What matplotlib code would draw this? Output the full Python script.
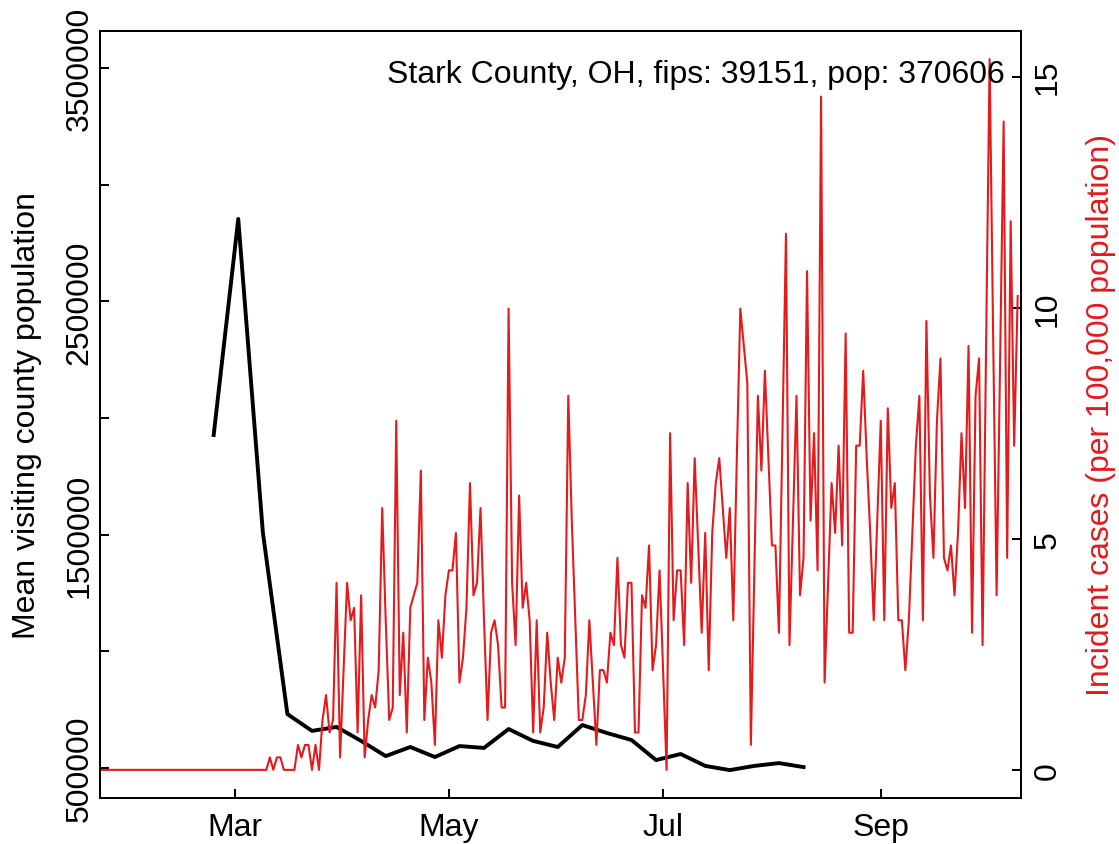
import matplotlib
matplotlib.use("Agg")
import matplotlib.pyplot as plt
import matplotlib.dates as mdates
import numpy as np
import pandas as pd

plt.rcParams['font.family'] = ['Liberation Sans', 'DejaVu Sans']

county_label = "Stark County, OH, fips: 39151, pop: 370606"
population = 370606

# weekly mean visiting county population (Mondays from 2020-02-24)
visit_start = "2020-02-24"
visit_pop = [1927000, 2853000, 1511000, 731000, 659000, 676000, 616000,
             551000, 590000, 547000, 594000, 586000, 667000, 616000,
             590000, 684000, 650000, 620000, 534000, 560000, 509000,
             491000, 509000, 521000, 504000]

# daily new cases from 2020-01-22
case_start = "2020-01-22"
new_cases = [0] * 49 + [
    1, 0, 1, 1, 0, 0, 0, 0, 2, 1,
    2, 2, 0, 2, 0, 4, 6, 3, 4, 15,
    1, 8, 15, 12, 13, 3, 14, 1, 4, 6,
    5, 8, 21, 12, 4, 5, 28, 6, 11, 3,
    13, 14, 15, 24, 4, 9, 7, 2, 12, 9,
    14, 16, 16, 19, 7, 9, 13, 23, 14, 15,
    21, 12, 4, 11, 12, 10, 5, 5, 37, 15,
    10, 22, 13, 15, 12, 3, 12, 3, 5, 11,
    7, 4, 9, 7, 9, 30, 20, 12, 4, 4,
    6, 12, 7, 2, 8, 8, 7, 11, 10, 17,
    10, 9, 15, 15, 3, 3, 14, 13, 18, 8,
    10, 16, 8, 0, 27, 12, 16, 16, 10, 23,
    15, 25, 18, 11, 19, 8, 19, 23, 25, 21,
    17, 21, 12, 25, 37, 34, 31, 2, 16, 30,
    24, 32, 25, 18, 18, 11, 27, 43, 10, 20,
    30, 14, 17, 40, 20, 27, 16, 54, 7, 15,
    23, 19, 26, 18, 35, 11, 11, 26, 26, 32,
    25, 19, 12, 20, 28, 12, 29, 21, 23, 12,
    12, 8, 12, 19, 26, 30, 12, 36, 22, 17,
    28, 33, 17, 16, 18, 14, 19, 27, 21, 34,
    11, 30, 33, 10, 34, 57, 35, 14, 33, 52,
    17, 44, 26, 38]

x_ticks = ["2020-03-01", "2020-05-01", "2020-07-01", "2020-09-01"]
left_ticks = [500000, 1000000, 1500000, 2000000, 2500000, 3000000, 3500000]
right_ticks = [0, 5, 10, 15]

visit_dates = pd.date_range(visit_start, periods=len(visit_pop), freq="7D")
case_dates = pd.date_range(case_start, periods=len(new_cases), freq="D")
incidence = np.array(new_cases) * 100000.0 / population

red = "#E41A1C"
fs = 23.0
lw_axis = 1.44

fig = plt.figure(figsize=(11.19, 8.45), dpi=100)
ax = fig.add_axes([99.5 / 1119, 45.7 / 845, 921 / 1119, 767.6 / 845])

ax.plot(visit_dates, visit_pop, color="black", lw=2.8, solid_joinstyle="round")
ax.set_ylim(370143, 3659857)
ax.set_yticks(left_ticks, [str(v) if i % 2 == 0 else "" for i, v in enumerate(left_ticks)],
              rotation=90, va="center")

t0 = pd.Timestamp(case_start)
ax.set_xlim(t0 + pd.Timedelta(days=0.48), t0 + pd.Timedelta(days=262.8))
ax.set_xticks(pd.to_datetime(x_ticks))
ax.xaxis.set_major_formatter(mdates.DateFormatter("%b"))

ax2 = ax.twinx()
ax2.plot(case_dates, incidence, color=red, lw=1.5, solid_joinstyle="round")
ymax = incidence.max()
ax2.set_ylim(-0.04 * ymax, 1.04 * ymax)
ax2.set_yticks(right_ticks, [str(v) for v in right_ticks], rotation=90, va="center")

ax.tick_params(axis="x", direction="in", length=6.5, width=lw_axis, labelsize=fs, pad=10)
ax.tick_params(axis="y", direction="in", length=6.5, width=lw_axis, labelsize=fs, pad=3.5)
ax2.tick_params(axis="y", direction="in", length=6.5, width=lw_axis, labelsize=fs, pad=9)

for a in (ax, ax2):
    for s in a.spines.values():
        s.set_linewidth(lw_axis)

fig.text(1005 / 1119, 1 - 83 / 845, county_label, ha="right", va="baseline", fontsize=fs)
fig.text(11.5 / 1119, 1 - 415.5 / 845, "Mean visiting county population",
         rotation=90, ha="left", va="center", fontsize=fs)
fig.text(1086 / 1119, 1 - 415.5 / 845, "Incident cases (per 100,000 population)",
         rotation=90, ha="left", va="center", fontsize=fs, color=red)

fig.savefig("out.png", dpi=100)
